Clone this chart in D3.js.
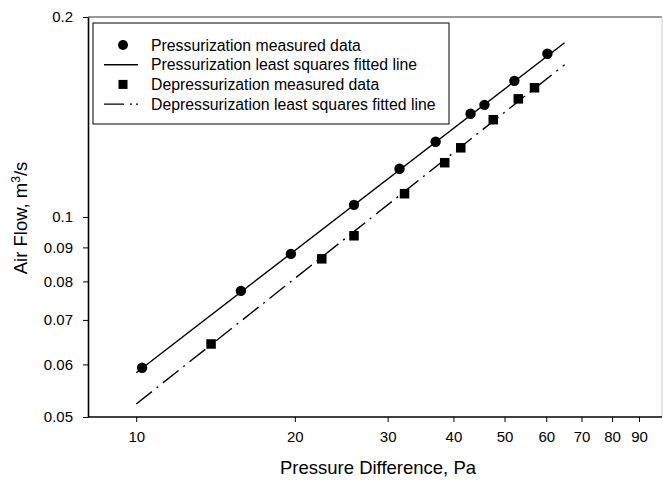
<!DOCTYPE html>
<html>
<head>
<meta charset="utf-8">
<script src="https://cdn.jsdelivr.net/npm/d3@7"></script>
<style>
  body { margin: 0; background: #fff; }
  text { font-family: "Liberation Sans", Arial, sans-serif; fill: #000; }
</style>
</head>
<body>
<div id="chart"></div>
<script>
// pressurization measured points [Pa, m3/s]
const pressX = [10.26, 15.8, 19.66, 25.9, 31.6, 37.0, 43.1, 45.8, 52.2, 60.3]
const pressY = [0.0593, 0.0774, 0.0880, 0.1043, 0.1182, 0.1298, 0.1430, 0.1475, 0.1603, 0.1761]

// depressurization measured points
const depressX = [13.87, 22.5, 25.9, 32.3, 38.5, 41.3, 47.6, 53.1, 57.0]
const depressY = [0.0644, 0.0865, 0.0937, 0.1084, 0.1207, 0.1271, 0.1401, 0.1506, 0.1565]

// least squares fitted lines, end points
const pressFitX = [10, 65]
const pressFitY = [0.0583, 0.1829]
const depressFitX = [10, 65]
const depressFitY = [0.0523, 0.1695]

const xTicks = [10, 20, 30, 40, 50, 60, 70, 80, 90]
const yTicks = [0.05, 0.06, 0.07, 0.08, 0.09, 0.1, 0.2]

const legendLabels = [
  "Pressurization measured data",
  "Pressurization least squares fitted line",
  "Depressurization measured data",
  "Depressurization least squares fitted line"
]

const width = 663, height = 480
const pLeft = 88, pTop = 17, pRight = 662, pBottom = 417

const svg = d3.select("#chart").append("svg")
  .attr("width", width)
  .attr("height", height)

const x = d3.scaleLog().domain([8.1, 99.5]).range([pLeft, pRight])
const y = d3.scaleLog().domain([0.05, 0.2]).range([pBottom, pTop])

const zip = (xs, ys) => xs.map((v, i) => [v, ys[i]])

// frame: top and faint right
svg.append("line").attr("x1", pLeft).attr("x2", pRight).attr("y1", pTop).attr("y2", pTop)
  .attr("stroke", "#333").attr("stroke-width", 1)
svg.append("line").attr("x1", pRight).attr("x2", pRight).attr("y1", pTop).attr("y2", pBottom)
  .attr("stroke", "#ccc").attr("stroke-width", 1)

// axes
const xAxis = d3.axisBottom(x).tickValues(xTicks).tickFormat(d3.format("d"))
  .tickSizeInner(5).tickSizeOuter(0).tickPadding(9)
const yAxis = d3.axisLeft(y).tickValues(yTicks).tickFormat(d => String(d))
  .tickSizeInner(5).tickSizeOuter(0).tickPadding(10)

const gx = svg.append("g").attr("transform", `translate(0,${pBottom})`).call(xAxis)
const gy = svg.append("g").attr("transform", `translate(${pLeft},0)`).call(yAxis)

;[gx, gy].forEach(g => {
  g.select(".domain").attr("stroke", "#000").attr("stroke-width", 1.6)
  g.selectAll(".tick line").attr("stroke", "#000").attr("stroke-width", 1)
  g.selectAll(".tick text").attr("font-size", 15)
    .attr("font-family", "'Liberation Sans', Arial, sans-serif").attr("fill", "#000")
})
gx.select(".domain").attr("d", `M${pLeft},0H${pRight}`)

// axis titles
svg.append("text")
  .attr("x", 378).attr("y", 474)
  .attr("text-anchor", "middle")
  .attr("font-size", 18.5)
  .text("Pressure Difference, Pa")

const yt = svg.append("text")
  .attr("transform", "translate(27,218) rotate(-90)")
  .attr("text-anchor", "middle")
  .attr("font-size", 18.5)
yt.append("tspan").text("Air Flow, m")
yt.append("tspan").attr("dy", -7).attr("font-size", 12).text("3")
yt.append("tspan").attr("dy", 7).text("/s")

const line = d3.line().x(d => x(d[0])).y(d => y(d[1]))
const dashDot = "20,6,2,6"

// fitted lines
svg.append("path").datum(zip(pressFitX, pressFitY))
  .attr("d", line).attr("fill", "none").attr("stroke", "#000").attr("stroke-width", 1.4)
svg.append("path").datum(zip(depressFitX, depressFitY))
  .attr("d", line).attr("fill", "none").attr("stroke", "#000").attr("stroke-width", 1.4)
  .attr("stroke-dasharray", dashDot)

// measured points
svg.selectAll(".press").data(zip(pressX, pressY)).enter()
  .append("circle").attr("class", "press")
  .attr("cx", d => x(d[0])).attr("cy", d => y(d[1])).attr("r", 5.2)
  .attr("fill", "#000")

const sq = 9.5
svg.selectAll(".depress").data(zip(depressX, depressY)).enter()
  .append("rect").attr("class", "depress")
  .attr("x", d => x(d[0]) - sq / 2).attr("y", d => y(d[1]) - sq / 2)
  .attr("width", sq).attr("height", sq)
  .attr("fill", "#000")

// legend
const lg = svg.append("g")
lg.append("rect").attr("x", 93).attr("y", 23).attr("width", 356).attr("height", 101)
  .attr("fill", "#fff").attr("stroke", "#000").attr("stroke-width", 1)

const rowY = i => 45 + i * 19.7
legendLabels.forEach((t, i) => {
  lg.append("text").attr("x", 151).attr("y", rowY(i) + 5.5)
    .attr("font-size", 15.8).text(t)
})
lg.append("circle").attr("cx", 123).attr("cy", rowY(0)).attr("r", 5).attr("fill", "#000")
lg.append("line").attr("x1", 104).attr("x2", 138).attr("y1", rowY(1)).attr("y2", rowY(1))
  .attr("stroke", "#000").attr("stroke-width", 1.4)
lg.append("rect").attr("x", 123 - 4.5).attr("y", rowY(2) - 4.5).attr("width", 9).attr("height", 9)
  .attr("fill", "#000")
lg.append("line").attr("x1", 104).attr("x2", 143).attr("y1", rowY(3)).attr("y2", rowY(3))
  .attr("stroke", "#000").attr("stroke-width", 1.4).attr("stroke-dasharray", "20,6,2,4,2,10")
</script>
</body>
</html>
